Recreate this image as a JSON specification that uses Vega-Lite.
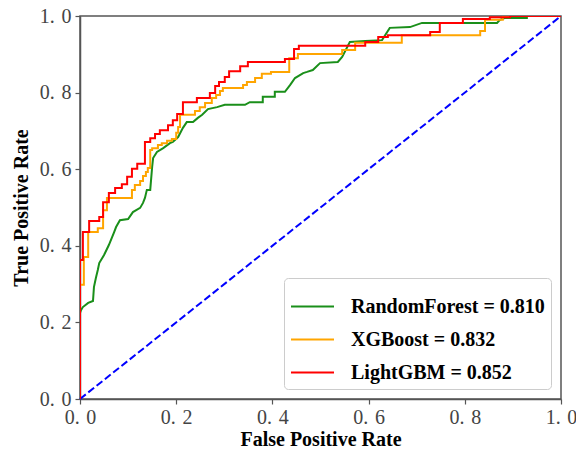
{
  "$schema": "https://vega.github.io/schema/vega-lite/v6.json",
  "width": 481,
  "height": 383,
  "padding": {"left": 80, "top": 16, "right": 15, "bottom": 51},
  "autosize": {"type": "none"},
  "background": "white",
  "config": {
    "view": {"stroke": "#555", "strokeWidth": 1.5},
    "axis": {
      "domainColor": "#555", "domainWidth": 1.5, "tickColor": "#555", "tickSize": 5, "tickWidth": 1.2,
      "labelFont": "Liberation Serif", "labelFontSize": 20, "labelColor": "#444",
      "titleFont": "Liberation Serif", "titleFontSize": 20, "titleFontWeight": "bold", "titleColor": "black",
      "grid": false
    },
    "legend": {
      "orient": "bottom-right", "offset": 10, "padding": 6,
      "strokeColor": "#ccc", "fillColor": "white", "cornerRadius": 4,
      "symbolType": "stroke", "symbolStrokeWidth": 2, "symbolSize": 1849,
      "labelFont": "Liberation Serif", "labelFontSize": 20, "labelFontWeight": "bold", "labelColor": "black",
      "labelOffset": 16, "rowPadding": 0, "labelLimit": 400
    }
  },
  "layer": [
    {
      "data": {"values": [{"fpr": 0, "tpr": 0}, {"fpr": 1, "tpr": 1}]},
      "mark": {"type": "line", "color": "blue", "strokeWidth": 2, "strokeDash": [7.4, 3.2]},
      "encoding": {
        "x": {"field": "fpr", "type": "quantitative", "scale": {"domain": [0, 1]}},
        "y": {"field": "tpr", "type": "quantitative", "scale": {"domain": [0, 1]}}
      }
    },
    {
      "data": {"values": [
        {"model": "RandomForest = 0.810", "i": 0, "fpr": 0, "tpr": 0},
        {"model": "RandomForest = 0.810", "i": 1, "fpr": 0, "tpr": 0.225},
        {"model": "RandomForest = 0.810", "i": 2, "fpr": 0.002, "tpr": 0.232},
        {"model": "RandomForest = 0.810", "i": 3, "fpr": 0.006, "tpr": 0.240},
        {"model": "RandomForest = 0.810", "i": 4, "fpr": 0.017, "tpr": 0.251},
        {"model": "RandomForest = 0.810", "i": 5, "fpr": 0.027, "tpr": 0.256},
        {"model": "RandomForest = 0.810", "i": 6, "fpr": 0.029, "tpr": 0.292},
        {"model": "RandomForest = 0.810", "i": 7, "fpr": 0.033, "tpr": 0.316},
        {"model": "RandomForest = 0.810", "i": 8, "fpr": 0.037, "tpr": 0.337},
        {"model": "RandomForest = 0.810", "i": 9, "fpr": 0.040, "tpr": 0.355},
        {"model": "RandomForest = 0.810", "i": 10, "fpr": 0.050, "tpr": 0.376},
        {"model": "RandomForest = 0.810", "i": 11, "fpr": 0.060, "tpr": 0.402},
        {"model": "RandomForest = 0.810", "i": 12, "fpr": 0.071, "tpr": 0.436},
        {"model": "RandomForest = 0.810", "i": 13, "fpr": 0.075, "tpr": 0.449},
        {"model": "RandomForest = 0.810", "i": 14, "fpr": 0.083, "tpr": 0.467},
        {"model": "RandomForest = 0.810", "i": 15, "fpr": 0.100, "tpr": 0.470},
        {"model": "RandomForest = 0.810", "i": 16, "fpr": 0.110, "tpr": 0.488},
        {"model": "RandomForest = 0.810", "i": 17, "fpr": 0.125, "tpr": 0.499},
        {"model": "RandomForest = 0.810", "i": 18, "fpr": 0.131, "tpr": 0.512},
        {"model": "RandomForest = 0.810", "i": 19, "fpr": 0.135, "tpr": 0.525},
        {"model": "RandomForest = 0.810", "i": 20, "fpr": 0.139, "tpr": 0.546},
        {"model": "RandomForest = 0.810", "i": 21, "fpr": 0.146, "tpr": 0.546},
        {"model": "RandomForest = 0.810", "i": 22, "fpr": 0.150, "tpr": 0.606},
        {"model": "RandomForest = 0.810", "i": 23, "fpr": 0.152, "tpr": 0.629},
        {"model": "RandomForest = 0.810", "i": 24, "fpr": 0.160, "tpr": 0.645},
        {"model": "RandomForest = 0.810", "i": 25, "fpr": 0.173, "tpr": 0.655},
        {"model": "RandomForest = 0.810", "i": 26, "fpr": 0.187, "tpr": 0.668},
        {"model": "RandomForest = 0.810", "i": 27, "fpr": 0.193, "tpr": 0.671},
        {"model": "RandomForest = 0.810", "i": 28, "fpr": 0.204, "tpr": 0.684},
        {"model": "RandomForest = 0.810", "i": 29, "fpr": 0.214, "tpr": 0.708},
        {"model": "RandomForest = 0.810", "i": 30, "fpr": 0.222, "tpr": 0.723},
        {"model": "RandomForest = 0.810", "i": 31, "fpr": 0.235, "tpr": 0.723},
        {"model": "RandomForest = 0.810", "i": 32, "fpr": 0.245, "tpr": 0.734},
        {"model": "RandomForest = 0.810", "i": 33, "fpr": 0.254, "tpr": 0.742},
        {"model": "RandomForest = 0.810", "i": 34, "fpr": 0.266, "tpr": 0.757},
        {"model": "RandomForest = 0.810", "i": 35, "fpr": 0.285, "tpr": 0.762},
        {"model": "RandomForest = 0.810", "i": 36, "fpr": 0.301, "tpr": 0.768},
        {"model": "RandomForest = 0.810", "i": 37, "fpr": 0.343, "tpr": 0.768},
        {"model": "RandomForest = 0.810", "i": 38, "fpr": 0.353, "tpr": 0.775},
        {"model": "RandomForest = 0.810", "i": 39, "fpr": 0.380, "tpr": 0.775},
        {"model": "RandomForest = 0.810", "i": 40, "fpr": 0.380, "tpr": 0.789},
        {"model": "RandomForest = 0.810", "i": 41, "fpr": 0.405, "tpr": 0.789},
        {"model": "RandomForest = 0.810", "i": 42, "fpr": 0.405, "tpr": 0.802},
        {"model": "RandomForest = 0.810", "i": 43, "fpr": 0.426, "tpr": 0.802},
        {"model": "RandomForest = 0.810", "i": 44, "fpr": 0.437, "tpr": 0.820},
        {"model": "RandomForest = 0.810", "i": 45, "fpr": 0.447, "tpr": 0.838},
        {"model": "RandomForest = 0.810", "i": 46, "fpr": 0.464, "tpr": 0.851},
        {"model": "RandomForest = 0.810", "i": 47, "fpr": 0.472, "tpr": 0.854},
        {"model": "RandomForest = 0.810", "i": 48, "fpr": 0.484, "tpr": 0.859},
        {"model": "RandomForest = 0.810", "i": 49, "fpr": 0.499, "tpr": 0.877},
        {"model": "RandomForest = 0.810", "i": 50, "fpr": 0.536, "tpr": 0.880},
        {"model": "RandomForest = 0.810", "i": 51, "fpr": 0.545, "tpr": 0.893},
        {"model": "RandomForest = 0.810", "i": 52, "fpr": 0.561, "tpr": 0.932},
        {"model": "RandomForest = 0.810", "i": 53, "fpr": 0.593, "tpr": 0.935},
        {"model": "RandomForest = 0.810", "i": 54, "fpr": 0.628, "tpr": 0.937},
        {"model": "RandomForest = 0.810", "i": 55, "fpr": 0.644, "tpr": 0.969},
        {"model": "RandomForest = 0.810", "i": 56, "fpr": 0.686, "tpr": 0.971},
        {"model": "RandomForest = 0.810", "i": 57, "fpr": 0.711, "tpr": 0.982},
        {"model": "RandomForest = 0.810", "i": 58, "fpr": 0.867, "tpr": 0.982},
        {"model": "RandomForest = 0.810", "i": 59, "fpr": 0.873, "tpr": 0.990},
        {"model": "RandomForest = 0.810", "i": 60, "fpr": 0.884, "tpr": 0.995},
        {"model": "RandomForest = 0.810", "i": 61, "fpr": 0.929, "tpr": 0.995},
        {"model": "RandomForest = 0.810", "i": 62, "fpr": 0.929, "tpr": 1.0},
        {"model": "RandomForest = 0.810", "i": 63, "fpr": 1, "tpr": 1},

        {"model": "XGBoost = 0.832", "i": 0, "fpr": 0, "tpr": 0},
        {"model": "XGBoost = 0.832", "i": 1, "fpr": 0, "tpr": 0.298},
        {"model": "XGBoost = 0.832", "i": 2, "fpr": 0.008, "tpr": 0.298},
        {"model": "XGBoost = 0.832", "i": 3, "fpr": 0.008, "tpr": 0.371},
        {"model": "XGBoost = 0.832", "i": 4, "fpr": 0.017, "tpr": 0.371},
        {"model": "XGBoost = 0.832", "i": 5, "fpr": 0.017, "tpr": 0.436},
        {"model": "XGBoost = 0.832", "i": 6, "fpr": 0.037, "tpr": 0.436},
        {"model": "XGBoost = 0.832", "i": 7, "fpr": 0.037, "tpr": 0.446},
        {"model": "XGBoost = 0.832", "i": 8, "fpr": 0.048, "tpr": 0.446},
        {"model": "XGBoost = 0.832", "i": 9, "fpr": 0.048, "tpr": 0.493},
        {"model": "XGBoost = 0.832", "i": 10, "fpr": 0.056, "tpr": 0.493},
        {"model": "XGBoost = 0.832", "i": 11, "fpr": 0.056, "tpr": 0.525},
        {"model": "XGBoost = 0.832", "i": 12, "fpr": 0.108, "tpr": 0.525},
        {"model": "XGBoost = 0.832", "i": 13, "fpr": 0.108, "tpr": 0.546},
        {"model": "XGBoost = 0.832", "i": 14, "fpr": 0.114, "tpr": 0.546},
        {"model": "XGBoost = 0.832", "i": 15, "fpr": 0.114, "tpr": 0.559},
        {"model": "XGBoost = 0.832", "i": 16, "fpr": 0.125, "tpr": 0.559},
        {"model": "XGBoost = 0.832", "i": 17, "fpr": 0.125, "tpr": 0.569},
        {"model": "XGBoost = 0.832", "i": 18, "fpr": 0.131, "tpr": 0.569},
        {"model": "XGBoost = 0.832", "i": 19, "fpr": 0.131, "tpr": 0.582},
        {"model": "XGBoost = 0.832", "i": 20, "fpr": 0.137, "tpr": 0.582},
        {"model": "XGBoost = 0.832", "i": 21, "fpr": 0.137, "tpr": 0.593},
        {"model": "XGBoost = 0.832", "i": 22, "fpr": 0.141, "tpr": 0.593},
        {"model": "XGBoost = 0.832", "i": 23, "fpr": 0.141, "tpr": 0.603},
        {"model": "XGBoost = 0.832", "i": 24, "fpr": 0.146, "tpr": 0.603},
        {"model": "XGBoost = 0.832", "i": 25, "fpr": 0.146, "tpr": 0.650},
        {"model": "XGBoost = 0.832", "i": 26, "fpr": 0.150, "tpr": 0.650},
        {"model": "XGBoost = 0.832", "i": 27, "fpr": 0.150, "tpr": 0.655},
        {"model": "XGBoost = 0.832", "i": 28, "fpr": 0.162, "tpr": 0.655},
        {"model": "XGBoost = 0.832", "i": 29, "fpr": 0.162, "tpr": 0.663},
        {"model": "XGBoost = 0.832", "i": 30, "fpr": 0.170, "tpr": 0.663},
        {"model": "XGBoost = 0.832", "i": 31, "fpr": 0.170, "tpr": 0.668},
        {"model": "XGBoost = 0.832", "i": 32, "fpr": 0.181, "tpr": 0.668},
        {"model": "XGBoost = 0.832", "i": 33, "fpr": 0.181, "tpr": 0.674},
        {"model": "XGBoost = 0.832", "i": 34, "fpr": 0.191, "tpr": 0.674},
        {"model": "XGBoost = 0.832", "i": 35, "fpr": 0.191, "tpr": 0.679},
        {"model": "XGBoost = 0.832", "i": 36, "fpr": 0.200, "tpr": 0.679},
        {"model": "XGBoost = 0.832", "i": 37, "fpr": 0.200, "tpr": 0.695},
        {"model": "XGBoost = 0.832", "i": 38, "fpr": 0.204, "tpr": 0.695},
        {"model": "XGBoost = 0.832", "i": 39, "fpr": 0.204, "tpr": 0.710},
        {"model": "XGBoost = 0.832", "i": 40, "fpr": 0.208, "tpr": 0.710},
        {"model": "XGBoost = 0.832", "i": 41, "fpr": 0.208, "tpr": 0.742},
        {"model": "XGBoost = 0.832", "i": 42, "fpr": 0.239, "tpr": 0.742},
        {"model": "XGBoost = 0.832", "i": 43, "fpr": 0.239, "tpr": 0.752},
        {"model": "XGBoost = 0.832", "i": 44, "fpr": 0.249, "tpr": 0.752},
        {"model": "XGBoost = 0.832", "i": 45, "fpr": 0.249, "tpr": 0.762},
        {"model": "XGBoost = 0.832", "i": 46, "fpr": 0.260, "tpr": 0.762},
        {"model": "XGBoost = 0.832", "i": 47, "fpr": 0.260, "tpr": 0.773},
        {"model": "XGBoost = 0.832", "i": 48, "fpr": 0.274, "tpr": 0.773},
        {"model": "XGBoost = 0.832", "i": 49, "fpr": 0.274, "tpr": 0.786},
        {"model": "XGBoost = 0.832", "i": 50, "fpr": 0.283, "tpr": 0.786},
        {"model": "XGBoost = 0.832", "i": 51, "fpr": 0.283, "tpr": 0.794},
        {"model": "XGBoost = 0.832", "i": 52, "fpr": 0.291, "tpr": 0.794},
        {"model": "XGBoost = 0.832", "i": 53, "fpr": 0.291, "tpr": 0.804},
        {"model": "XGBoost = 0.832", "i": 54, "fpr": 0.297, "tpr": 0.804},
        {"model": "XGBoost = 0.832", "i": 55, "fpr": 0.297, "tpr": 0.812},
        {"model": "XGBoost = 0.832", "i": 56, "fpr": 0.339, "tpr": 0.812},
        {"model": "XGBoost = 0.832", "i": 57, "fpr": 0.339, "tpr": 0.820},
        {"model": "XGBoost = 0.832", "i": 58, "fpr": 0.347, "tpr": 0.820},
        {"model": "XGBoost = 0.832", "i": 59, "fpr": 0.347, "tpr": 0.828},
        {"model": "XGBoost = 0.832", "i": 60, "fpr": 0.364, "tpr": 0.828},
        {"model": "XGBoost = 0.832", "i": 61, "fpr": 0.364, "tpr": 0.838},
        {"model": "XGBoost = 0.832", "i": 62, "fpr": 0.378, "tpr": 0.838},
        {"model": "XGBoost = 0.832", "i": 63, "fpr": 0.378, "tpr": 0.849},
        {"model": "XGBoost = 0.832", "i": 64, "fpr": 0.397, "tpr": 0.849},
        {"model": "XGBoost = 0.832", "i": 65, "fpr": 0.397, "tpr": 0.854},
        {"model": "XGBoost = 0.832", "i": 66, "fpr": 0.435, "tpr": 0.854},
        {"model": "XGBoost = 0.832", "i": 67, "fpr": 0.435, "tpr": 0.890},
        {"model": "XGBoost = 0.832", "i": 68, "fpr": 0.453, "tpr": 0.890},
        {"model": "XGBoost = 0.832", "i": 69, "fpr": 0.453, "tpr": 0.901},
        {"model": "XGBoost = 0.832", "i": 70, "fpr": 0.545, "tpr": 0.901},
        {"model": "XGBoost = 0.832", "i": 71, "fpr": 0.545, "tpr": 0.911},
        {"model": "XGBoost = 0.832", "i": 72, "fpr": 0.572, "tpr": 0.911},
        {"model": "XGBoost = 0.832", "i": 73, "fpr": 0.572, "tpr": 0.930},
        {"model": "XGBoost = 0.832", "i": 74, "fpr": 0.669, "tpr": 0.930},
        {"model": "XGBoost = 0.832", "i": 75, "fpr": 0.669, "tpr": 0.950},
        {"model": "XGBoost = 0.832", "i": 76, "fpr": 0.832, "tpr": 0.950},
        {"model": "XGBoost = 0.832", "i": 77, "fpr": 0.832, "tpr": 0.961},
        {"model": "XGBoost = 0.832", "i": 78, "fpr": 0.842, "tpr": 0.961},
        {"model": "XGBoost = 0.832", "i": 79, "fpr": 0.842, "tpr": 0.990},
        {"model": "XGBoost = 0.832", "i": 80, "fpr": 0.879, "tpr": 0.990},
        {"model": "XGBoost = 0.832", "i": 81, "fpr": 0.879, "tpr": 1.0},
        {"model": "XGBoost = 0.832", "i": 82, "fpr": 1, "tpr": 1},

        {"model": "LightGBM = 0.852", "i": 0, "fpr": 0, "tpr": 0},
        {"model": "LightGBM = 0.852", "i": 1, "fpr": 0, "tpr": 0.363},
        {"model": "LightGBM = 0.852", "i": 2, "fpr": 0.006, "tpr": 0.363},
        {"model": "LightGBM = 0.852", "i": 3, "fpr": 0.006, "tpr": 0.436},
        {"model": "LightGBM = 0.852", "i": 4, "fpr": 0.019, "tpr": 0.436},
        {"model": "LightGBM = 0.852", "i": 5, "fpr": 0.019, "tpr": 0.465},
        {"model": "LightGBM = 0.852", "i": 6, "fpr": 0.040, "tpr": 0.465},
        {"model": "LightGBM = 0.852", "i": 7, "fpr": 0.040, "tpr": 0.475},
        {"model": "LightGBM = 0.852", "i": 8, "fpr": 0.048, "tpr": 0.475},
        {"model": "LightGBM = 0.852", "i": 9, "fpr": 0.048, "tpr": 0.514},
        {"model": "LightGBM = 0.852", "i": 10, "fpr": 0.060, "tpr": 0.514},
        {"model": "LightGBM = 0.852", "i": 11, "fpr": 0.060, "tpr": 0.538},
        {"model": "LightGBM = 0.852", "i": 12, "fpr": 0.073, "tpr": 0.538},
        {"model": "LightGBM = 0.852", "i": 13, "fpr": 0.073, "tpr": 0.551},
        {"model": "LightGBM = 0.852", "i": 14, "fpr": 0.087, "tpr": 0.551},
        {"model": "LightGBM = 0.852", "i": 15, "fpr": 0.087, "tpr": 0.561},
        {"model": "LightGBM = 0.852", "i": 16, "fpr": 0.098, "tpr": 0.561},
        {"model": "LightGBM = 0.852", "i": 17, "fpr": 0.098, "tpr": 0.580},
        {"model": "LightGBM = 0.852", "i": 18, "fpr": 0.108, "tpr": 0.580},
        {"model": "LightGBM = 0.852", "i": 19, "fpr": 0.108, "tpr": 0.601},
        {"model": "LightGBM = 0.852", "i": 20, "fpr": 0.119, "tpr": 0.601},
        {"model": "LightGBM = 0.852", "i": 21, "fpr": 0.119, "tpr": 0.614},
        {"model": "LightGBM = 0.852", "i": 22, "fpr": 0.135, "tpr": 0.614},
        {"model": "LightGBM = 0.852", "i": 23, "fpr": 0.135, "tpr": 0.671},
        {"model": "LightGBM = 0.852", "i": 24, "fpr": 0.146, "tpr": 0.671},
        {"model": "LightGBM = 0.852", "i": 25, "fpr": 0.146, "tpr": 0.681},
        {"model": "LightGBM = 0.852", "i": 26, "fpr": 0.156, "tpr": 0.681},
        {"model": "LightGBM = 0.852", "i": 27, "fpr": 0.156, "tpr": 0.692},
        {"model": "LightGBM = 0.852", "i": 28, "fpr": 0.166, "tpr": 0.692},
        {"model": "LightGBM = 0.852", "i": 29, "fpr": 0.166, "tpr": 0.702},
        {"model": "LightGBM = 0.852", "i": 30, "fpr": 0.183, "tpr": 0.702},
        {"model": "LightGBM = 0.852", "i": 31, "fpr": 0.183, "tpr": 0.715},
        {"model": "LightGBM = 0.852", "i": 32, "fpr": 0.193, "tpr": 0.715},
        {"model": "LightGBM = 0.852", "i": 33, "fpr": 0.193, "tpr": 0.728},
        {"model": "LightGBM = 0.852", "i": 34, "fpr": 0.202, "tpr": 0.728},
        {"model": "LightGBM = 0.852", "i": 35, "fpr": 0.202, "tpr": 0.744},
        {"model": "LightGBM = 0.852", "i": 36, "fpr": 0.214, "tpr": 0.744},
        {"model": "LightGBM = 0.852", "i": 37, "fpr": 0.214, "tpr": 0.775},
        {"model": "LightGBM = 0.852", "i": 38, "fpr": 0.243, "tpr": 0.775},
        {"model": "LightGBM = 0.852", "i": 39, "fpr": 0.243, "tpr": 0.786},
        {"model": "LightGBM = 0.852", "i": 40, "fpr": 0.270, "tpr": 0.786},
        {"model": "LightGBM = 0.852", "i": 41, "fpr": 0.270, "tpr": 0.799},
        {"model": "LightGBM = 0.852", "i": 42, "fpr": 0.281, "tpr": 0.799},
        {"model": "LightGBM = 0.852", "i": 43, "fpr": 0.281, "tpr": 0.817},
        {"model": "LightGBM = 0.852", "i": 44, "fpr": 0.289, "tpr": 0.817},
        {"model": "LightGBM = 0.852", "i": 45, "fpr": 0.289, "tpr": 0.828},
        {"model": "LightGBM = 0.852", "i": 46, "fpr": 0.301, "tpr": 0.828},
        {"model": "LightGBM = 0.852", "i": 47, "fpr": 0.301, "tpr": 0.841},
        {"model": "LightGBM = 0.852", "i": 48, "fpr": 0.310, "tpr": 0.841},
        {"model": "LightGBM = 0.852", "i": 49, "fpr": 0.310, "tpr": 0.856},
        {"model": "LightGBM = 0.852", "i": 50, "fpr": 0.333, "tpr": 0.856},
        {"model": "LightGBM = 0.852", "i": 51, "fpr": 0.333, "tpr": 0.869},
        {"model": "LightGBM = 0.852", "i": 52, "fpr": 0.349, "tpr": 0.869},
        {"model": "LightGBM = 0.852", "i": 53, "fpr": 0.349, "tpr": 0.880},
        {"model": "LightGBM = 0.852", "i": 54, "fpr": 0.426, "tpr": 0.880},
        {"model": "LightGBM = 0.852", "i": 55, "fpr": 0.426, "tpr": 0.888},
        {"model": "LightGBM = 0.852", "i": 56, "fpr": 0.445, "tpr": 0.888},
        {"model": "LightGBM = 0.852", "i": 57, "fpr": 0.445, "tpr": 0.914},
        {"model": "LightGBM = 0.852", "i": 58, "fpr": 0.455, "tpr": 0.914},
        {"model": "LightGBM = 0.852", "i": 59, "fpr": 0.455, "tpr": 0.922},
        {"model": "LightGBM = 0.852", "i": 60, "fpr": 0.593, "tpr": 0.922},
        {"model": "LightGBM = 0.852", "i": 61, "fpr": 0.593, "tpr": 0.932},
        {"model": "LightGBM = 0.852", "i": 62, "fpr": 0.620, "tpr": 0.932},
        {"model": "LightGBM = 0.852", "i": 63, "fpr": 0.620, "tpr": 0.945},
        {"model": "LightGBM = 0.852", "i": 64, "fpr": 0.640, "tpr": 0.945},
        {"model": "LightGBM = 0.852", "i": 65, "fpr": 0.640, "tpr": 0.950},
        {"model": "LightGBM = 0.852", "i": 66, "fpr": 0.728, "tpr": 0.950},
        {"model": "LightGBM = 0.852", "i": 67, "fpr": 0.728, "tpr": 0.958},
        {"model": "LightGBM = 0.852", "i": 68, "fpr": 0.748, "tpr": 0.958},
        {"model": "LightGBM = 0.852", "i": 69, "fpr": 0.748, "tpr": 0.982},
        {"model": "LightGBM = 0.852", "i": 70, "fpr": 0.796, "tpr": 0.982},
        {"model": "LightGBM = 0.852", "i": 71, "fpr": 0.796, "tpr": 0.992},
        {"model": "LightGBM = 0.852", "i": 72, "fpr": 0.852, "tpr": 0.992},
        {"model": "LightGBM = 0.852", "i": 73, "fpr": 0.852, "tpr": 0.997},
        {"model": "LightGBM = 0.852", "i": 74, "fpr": 0.894, "tpr": 0.997},
        {"model": "LightGBM = 0.852", "i": 75, "fpr": 0.894, "tpr": 1.0},
        {"model": "LightGBM = 0.852", "i": 76, "fpr": 1, "tpr": 1}
      ]},
      "mark": {"type": "line", "strokeWidth": 2, "clip": true},
      "encoding": {
        "x": {
          "field": "fpr", "type": "quantitative",
          "scale": {"domain": [0, 1], "nice": false},
          "axis": {"title": "False Positive Rate", "values": [0, 0.2, 0.4, 0.6, 0.8, 1.0],
                   "labelExpr": "replace(format(datum.value, '.1f'), '.', '.\u2004')",
                   "labelPadding": 3, "titlePadding": 2, "labelFlush": false}
        },
        "y": {
          "field": "tpr", "type": "quantitative",
          "scale": {"domain": [0, 1], "nice": false},
          "axis": {"title": "True Positive Rate", "values": [0, 0.2, 0.4, 0.6, 0.8, 1.0],
                   "labelExpr": "replace(format(datum.value, '.1f'), '.', '.\u2004')",
                   "labelPadding": 4, "titlePadding": 8, "labelFlush": false}
        },
        "color": {
          "field": "model", "type": "nominal",
          "scale": {"domain": ["RandomForest = 0.810", "XGBoost = 0.832", "LightGBM = 0.852"],
                    "range": ["#1a8f1a", "orange", "red"]},
          "legend": {"title": null}
        },
        "order": {"field": "i", "type": "quantitative"}
      }
    }
  ]
}
